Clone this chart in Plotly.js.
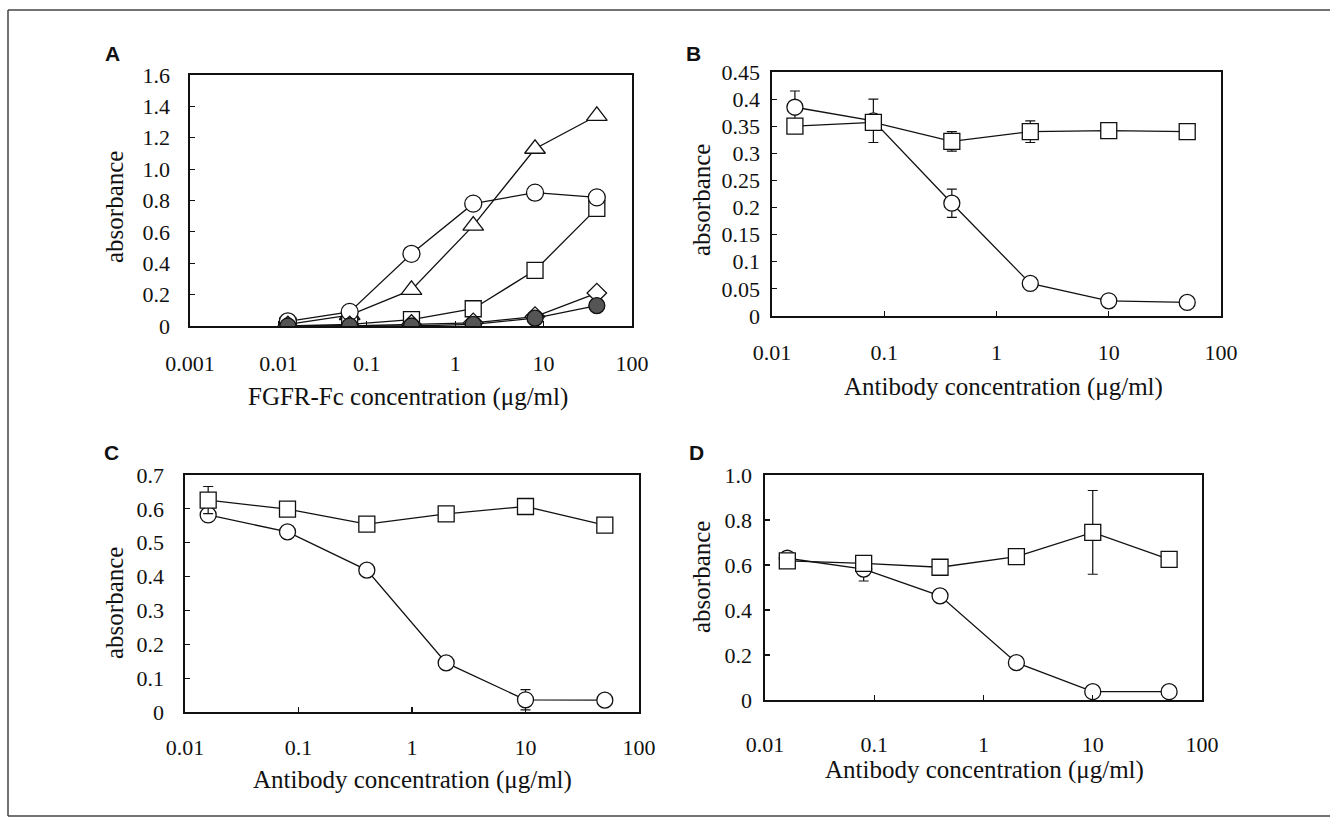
<!DOCTYPE html>
<html>
<head>
<meta charset="utf-8">
<script src="https://cdn.plot.ly/plotly-3.0.1.min.js"></script>
<style>html,body{margin:0;padding:0;background:#fff;}#chart{width:1333px;height:821px;}</style>
</head>
<body>
<div id="chart"></div>
<script>
// ---------- DATA ----------
// Panel A: FGFR-Fc concentration (µg/ml)
const concA = [0.0128, 0.064, 0.32, 1.6, 8, 40];
const aTriangle = [0.01, 0.07, 0.23, 0.64, 1.13, 1.34];
const aSquare   = [0.00, 0.01, 0.04, 0.11, 0.355, 0.75];
const aCircle   = [0.03, 0.09, 0.46, 0.78, 0.85, 0.82];
const aDiamond  = [0.00, 0.00, 0.01, 0.02, 0.06, 0.21];
const aFilled   = [0.00, 0.00, 0.00, 0.01, 0.05, 0.13];

// Panels B-D: Antibody concentration (µg/ml)
const concAb = [0.016, 0.08, 0.4, 2, 10, 50];

const bCircle    = [0.385, 0.36, 0.208, 0.06, 0.028, 0.025];
const bCircleErr = [0.03, 0.04, 0.026, 0.005, 0.003, 0.002];
const bSquare    = [0.35, 0.357, 0.322, 0.34, 0.342, 0.34];
const bSquareErr = [0.012, 0.008, 0.018, 0.02, 0.012, 0.004];

const cCircle    = [0.582, 0.532, 0.419, 0.145, 0.036, 0.035];
const cCircleErr = [0.005, 0.005, 0.005, 0.005, 0.03, 0.005];
const cSquare    = [0.626, 0.599, 0.555, 0.585, 0.607, 0.552];
const cSquareErr = [0.04, 0.005, 0.005, 0.012, 0.02, 0.005];

const dCircle    = [0.63, 0.582, 0.463, 0.166, 0.037, 0.037];
const dCircleErr = [0.03, 0.053, 0.005, 0.005, 0.005, 0.005];
const dSquare    = [0.618, 0.607, 0.59, 0.637, 0.745, 0.625];
const dSquareErr = [0.02, 0.01, 0.01, 0.01, 0.186, 0.01];

// Tick labels
const xTicksA = ["0.001", "0.01", "0.1", "1", "10", "100"];
const xTicksAb = ["0.01", "0.1", "1", "10", "100"];
const yTicksA = ["0", "0.2", "0.4", "0.6", "0.8", "1.0", "1.2", "1.4", "1.6"];
const yTicksB = ["0", "0.05", "0.1", "0.15", "0.2", "0.25", "0.3", "0.35", "0.4", "0.45"];
const yTicksC = ["0", "0.1", "0.2", "0.3", "0.4", "0.5", "0.6", "0.7"];
const yTicksD = ["0", "0.2", "0.4", "0.6", "0.8", "1.0"];

const panelLetters = ["A", "B", "C", "D"];
const xTitleA = "FGFR-Fc concentration (μg/ml)";
const xTitleAb = "Antibody concentration (μg/ml)";
const yTitle = "absorbance";

// ---------- LAYOUT HELPERS ----------
const W = 1333, H = 821;
const px = v => v / W;
const py = v => 1 - v / H;
const SERIF = "Liberation Serif";
const TICKF = {family: SERIF, size: 22, color: "#111"};
const TITLEF = {family: SERIF, size: 25, color: "#111"};

function mk(x, y, sym, xa, ya, opts) {
  opts = opts || {};
  const t = {
    x: x, y: y, type: "scatter", mode: "lines+markers",
    xaxis: xa, yaxis: ya, showlegend: false, hoverinfo: "x+y",
    line: {color: "#111", width: 1.3},
    marker: {symbol: sym, size: opts.size || 16, color: opts.fill || "#fff",
             line: {color: "#111", width: 1.3}}
  };
  if (opts.err) {
    t.error_y = {type: "data", array: opts.err, visible: true, color: "#111", thickness: 1.2, width: 5};
  }
  return t;
}

const data = [
  // A
  mk(concA, aTriangle, "triangle-up", "x", "y", {size: 18}),
  mk(concA, aSquare, "square", "x", "y", {size: 16}),
  mk(concA, aCircle, "circle", "x", "y", {size: 17}),
  mk(concA, aDiamond, "diamond", "x", "y", {size: 15}),
  mk(concA, aFilled, "circle", "x", "y", {size: 16, fill: "#555"}),
  // B
  mk(concAb, bCircle, "circle", "x2", "y2", {err: bCircleErr}),
  mk(concAb, bSquare, "square", "x2", "y2", {err: bSquareErr}),
  // C
  mk(concAb, cCircle, "circle", "x3", "y3", {err: cCircleErr}),
  mk(concAb, cSquare, "square", "x3", "y3", {err: cSquareErr}),
  // D
  mk(concAb, dCircle, "circle", "x4", "y4", {err: dCircleErr}),
  mk(concAb, dSquare, "square", "x4", "y4", {err: dSquareErr})
];

function xax(domain, range, labels, anchor, standoff) {
  const vals = labels.map(Number);
  return {
    type: "log", domain: domain, range: range, anchor: anchor,
    tickvals: vals, ticktext: labels, tickfont: TICKF,
    ticks: "inside", ticklen: 5, tickwidth: 1.2, tickcolor: "#111",
    showline: true, linecolor: "#111", linewidth: 1.6, mirror: true,
    showgrid: false, zeroline: false, ticklabelstandoff: standoff, fixedrange: true
  };
}
function yax(domain, max, labels, anchor, standoff) {
  const vals = labels.map(Number);
  return {
    domain: domain, range: [0, max], anchor: anchor,
    tickvals: vals, ticktext: labels, tickfont: TICKF,
    ticks: "inside", ticklen: 5, tickwidth: 1.2, tickcolor: "#111",
    showline: true, linecolor: "#111", linewidth: 1.6, mirror: true,
    showgrid: false, zeroline: false, ticklabelstandoff: standoff, fixedrange: true
  };
}

// plot areas in pixels: [left, right, top, bottom]
const boxA = [190, 632, 75, 326];
const boxB = [772, 1221, 72, 316];
const boxC = [185, 639, 475, 712];
const boxD = [765, 1202, 475, 700];
const dx = b => [px(b[0]), px(b[1])];
const dy = b => [py(b[3]), py(b[2])];

const layout = {
  width: W, height: H,
  margin: {l: 0, r: 0, t: 0, b: 0},
  paper_bgcolor: "#fff", plot_bgcolor: "#fff",
  showlegend: false,
  font: {family: SERIF},
  xaxis:  xax(dx(boxA), [-3, 2], xTicksA, "y", 17),
  yaxis:  yax(dy(boxA), 1.6, yTicksA, "x", 14),
  xaxis2: xax(dx(boxB), [-2, 2], xTicksAb, "y2", 16),
  yaxis2: yax(dy(boxB), 0.45, yTicksB, "x2", 6),
  xaxis3: xax(dx(boxC), [-2, 2], xTicksAb, "y3", 15),
  yaxis3: yax(dy(boxC), 0.7, yTicksC, "x3", 15),
  xaxis4: xax(dx(boxD), [-2, 2], xTicksAb, "y4", 24),
  yaxis4: yax(dy(boxD), 1.0, yTicksD, "x4", 7),
  annotations: [],
  shapes: [
    {type: "line", xref: "paper", yref: "paper", x0: px(8), x1: px(8), y0: py(816), y1: py(10), line: {color: "#444", width: 1.5}},
    {type: "line", xref: "paper", yref: "paper", x0: px(8), x1: px(1330), y0: py(10), y1: py(10), line: {color: "#444", width: 1.5}},
    {type: "line", xref: "paper", yref: "paper", x0: px(8), x1: px(1330), y0: py(816), y1: py(816), line: {color: "#444", width: 1.5}}
  ]
};

function ann(text, x, y, font, angle) {
  layout.annotations.push({
    text: text, xref: "paper", yref: "paper", x: px(x), y: py(y),
    xanchor: "center", yanchor: "middle", showarrow: false,
    font: font, textangle: angle || 0
  });
}
const LETTERF = {family: "Liberation Sans", size: 21, color: "#111", weight: "bold"};
ann("<b>" + panelLetters[0] + "</b>", 112, 54, LETTERF);
ann("<b>" + panelLetters[1] + "</b>", 694, 53, LETTERF);
ann("<b>" + panelLetters[2] + "</b>", 111, 453, LETTERF);
ann("<b>" + panelLetters[3] + "</b>", 696, 452, LETTERF);

ann(xTitleA, 408, 397, TITLEF);
ann(xTitleAb, 1003, 387, TITLEF);
ann(xTitleAb, 412, 780, TITLEF);
ann(xTitleAb, 984, 770, TITLEF);

ann(yTitle, 114, 207, TITLEF, -90);
ann(yTitle, 701, 200, TITLEF, -90);
ann(yTitle, 114, 603, TITLEF, -90);
ann(yTitle, 701, 577, TITLEF, -90);

Plotly.newPlot("chart", data, layout, {staticPlot: true, displayModeBar: false});
</script>
</body>
</html>
